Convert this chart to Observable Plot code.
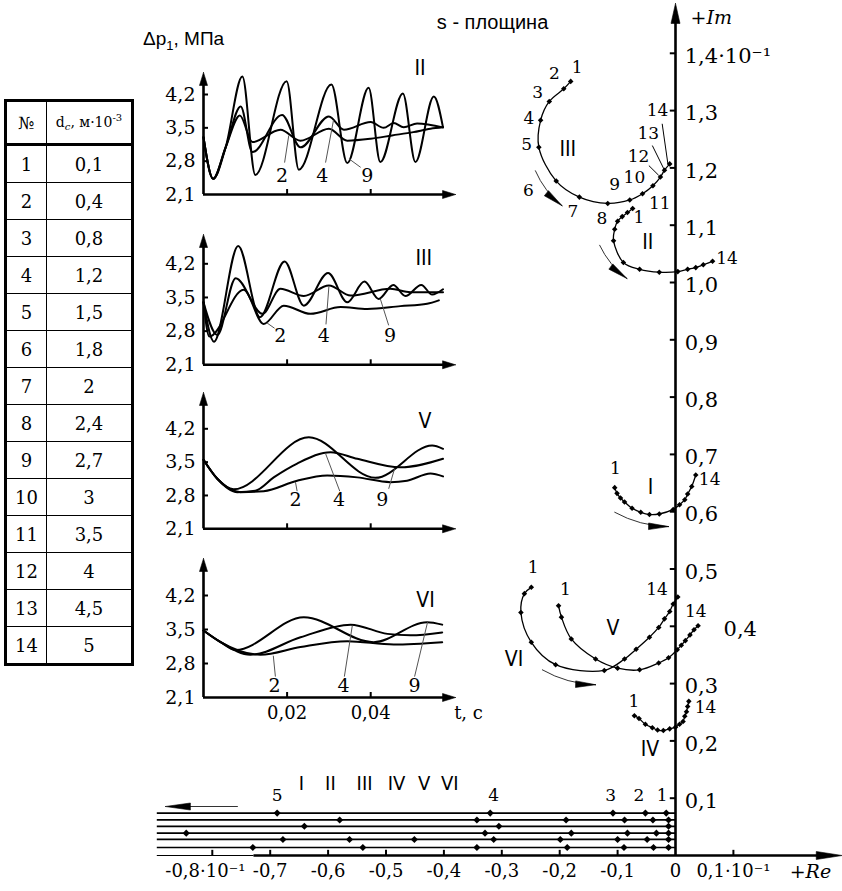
<!DOCTYPE html>
<html><head><meta charset="utf-8">
<script src="https://cdn.jsdelivr.net/npm/d3@7"></script>
<script src="https://cdn.jsdelivr.net/npm/@observablehq/plot@0.6"></script>
<style>
body{margin:0;background:#fff;}
#wrap{position:relative;width:842px;height:891px;overflow:hidden;background:#fff;color:#000;}
#wrap svg{position:absolute;left:0;top:0;}
#tbl{position:absolute;left:4px;top:99px;border-collapse:collapse;border:3px solid #000;font-family:"DejaVu Serif",serif;font-size:18px;}
#tbl th,#tbl td{border:1px solid #000;padding:0;text-align:center;font-weight:normal;}
#tbl th{height:41px;font-size:14px;border-bottom:3px solid #000;}
#tbl th.c1{font-size:17px;}
#tbl td{height:36px;}
#tbl .c1{width:39px;} #tbl .c2{width:84px;}
#tbl sub,#tbl sup{font-size:10px;}
#ylab{position:absolute;left:143px;top:28px;font-family:"Liberation Sans",sans-serif;font-size:19px;}
#ylab sub{font-size:13px;}
g[aria-label="roman"] text{letter-spacing:-1.5px;}
</style></head>
<body><div id="wrap"></div>
<script>
// ---------------- table ----------------
const caseNumbers = [1,2,3,4,5,6,7,8,9,10,11,12,13,14];
const dcValues = ["0,1","0,4","0,8","1,2","1,5","1,8","2","2,4","2,7","3","3,5","4","4,5","5"];

// ---------------- s-plane axes ----------------
const imTicks = [0.1,0.2,0.3,0.4,0.5,0.6,0.7,0.8,0.9,1.0,1.1,1.2,1.3,1.4];
const imTickLabels = ["0,1","0,2","0,3","0,4","0,5","0,6","0,7","0,8","0,9","1,0","1,1","1,2","1,3","1,4·10⁻¹"];
const imLabelRe = [0.016,0.016,0.016,0.083,0.016,0.016,0.016,0.016,0.016,0.016,0.016,0.016,0.016,0.016];
const reTicks = [-0.8,-0.7,-0.6,-0.5,-0.4,-0.3,-0.2,-0.1,0.1];
const reLabelPos = [-0.812,-0.7,-0.6,-0.5,-0.4,-0.3,-0.2,-0.1,0,0.1];
const reTickLabels = ["-0,8·10⁻¹","-0,7","-0,6","-0,5","-0,4","-0,3","-0,2","-0,1","0","0,1·10⁻¹"];
const imAxisTop = 1.487, reAxisRight = 0.288, reAxisLeft = -0.895, reThickStart = -0.728;

// ---------------- root loci (Re, Im in units of 10^-1) ----------------
const reIII = [-0.181,-0.193,-0.218,-0.233,-0.236,-0.206,-0.166,-0.117,-0.079,-0.057,-0.039,-0.026,-0.019,-0.010];
const imIII = [1.351,1.338,1.316,1.283,1.236,1.177,1.149,1.138,1.144,1.155,1.169,1.184,1.196,1.207];
const reII  = [-0.074,-0.083,-0.092,-0.100,-0.105,-0.107,-0.090,-0.062,-0.028,0.004,0.021,0.035,0.048,0.064];
const imII  = [1.129,1.122,1.115,1.107,1.093,1.073,1.035,1.023,1.018,1.019,1.023,1.026,1.031,1.037];
const reI   = [-0.105,-0.101,-0.095,-0.088,-0.075,-0.060,-0.045,-0.028,-0.004,0.007,0.016,0.021,0.028,0.035];
const imI   = [0.642,0.632,0.624,0.617,0.606,0.599,0.595,0.596,0.604,0.612,0.621,0.631,0.644,0.664];
const reVI  = [-0.249,-0.261,-0.267,-0.249,-0.207,-0.123,-0.088,-0.068,-0.045,-0.029,-0.019,-0.010,-0.004,0.004];
const imVI  = [0.468,0.457,0.424,0.372,0.333,0.323,0.343,0.360,0.381,0.398,0.413,0.426,0.439,0.451];
const reV   = [-0.202,-0.197,-0.180,-0.138,-0.100,-0.062,-0.029,-0.012,0.003,0.010,0.017,0.025,0.032,0.039];
const imV   = [0.436,0.416,0.378,0.343,0.327,0.324,0.336,0.345,0.359,0.367,0.375,0.385,0.394,0.401];
const reIV  = [-0.071,-0.063,-0.052,-0.040,-0.031,-0.021,-0.010,0.000,0.007,0.013,0.016,0.019,0.021,0.023];
const imIV  = [0.244,0.239,0.229,0.223,0.219,0.218,0.221,0.224,0.229,0.234,0.243,0.251,0.260,0.269];

// point-number labels
const ptLabelText = ["1","2","3","4","5","6","7","8","9","10","11","12","13","14","1","14","1","14","1","14","1","14","1","14"];
const ptLabelRe = [-0.170,-0.209,-0.238,-0.253,-0.257,-0.254,-0.177,-0.127,-0.105,-0.071,-0.027,-0.064,-0.047,-0.031,
                   -0.063,0.089,-0.104,0.059,-0.246,-0.032,-0.190,0.035,-0.072,0.052];
const ptLabelIm = [1.376,1.365,1.332,1.287,1.240,1.161,1.123,1.111,1.171,1.183,1.138,1.220,1.260,1.300,
                   1.114,1.041,0.675,0.656,0.503,0.465,0.465,0.425,0.268,0.258];
const leadRe1 = [-0.023,-0.040,-0.046], leadIm1 = [1.277,1.239,1.204];
const leadRe2 = [-0.013,-0.020,-0.029], leadIm2 = [1.206,1.198,1.187];
const caseLabelText = ["III","II","I","V","VI","IV"];
const caseLabelRe = [-0.186,-0.048,-0.043,-0.108,-0.279,-0.044];
const caseLabelIm = [1.233,1.070,0.643,0.396,0.343,0.186];
// motion arrows along loci
const arrRe1 = [-0.242,-0.131,-0.105,-0.230], arrIm1 = [1.195,1.065,0.599,0.324];
const arrRe2 = [-0.196,-0.084,-0.012,-0.138], arrIm2 = [1.134,1.007,0.574,0.298];
const arrowBend = -14;

// real roots (bottom strip), one row per case
const rowLevels = [0.074,0.062,0.051,0.039,0.028,0.014];
const roots1 = [-0.688,-0.320,-0.108,-0.052,-0.016];
const roots2 = [-0.580,-0.343,-0.189,-0.088,-0.039,-0.012];
const roots3 = [-0.641,-0.305,-0.012];
const roots4 = [-0.845,-0.329,-0.180,-0.083,-0.033,-0.012];
const roots5 = [-0.678,-0.563,-0.451,-0.314,-0.199,-0.100,-0.049,-0.012];
const roots6 = [-0.730,-0.540,-0.343,-0.187,-0.089,-0.038,-0.012];
const rootLabelText = ["5","4","3","2","1"];
const rootLabelRe = [-0.688,-0.314,-0.112,-0.063,-0.023];
const rootLabelIm = 0.105;
const romanNames = ["I","II","III","IV","V","VI"];
const romanRe = [-0.646,-0.596,-0.537,-0.482,-0.434,-0.390];
const romanIm = 0.126;
const leftArrowRe = [-0.755,-0.881], leftArrowIm = 0.0855;

// ---------------- transient curves Δp1(t) ----------------
const tII_9 = [0,0.0023,0.0053,0.0093,0.0124,0.0199,0.0228,0.0306,0.0344,0.0395,0.0423,0.0477,0.0507,0.0551,0.0573];
const pII_9 = [3.30,2.43,3.09,4.58,2.51,4.48,2.62,4.41,2.76,4.34,2.78,4.22,2.78,4.16,3.51];
const tII_4 = [0,0.0023,0.0053,0.0089,0.0117,0.0188,0.0232,0.0300,0.0336,0.0400,0.0431,0.0455,0.0479,0.0511,0.0573];
const pII_4 = [3.30,2.43,3.09,3.95,2.99,3.77,3.09,3.74,3.46,3.62,3.50,3.60,3.51,3.59,3.51];
const tII_2 = [0,0.0023,0.0053,0.0087,0.0117,0.0184,0.0232,0.0300,0.0344,0.0400,0.0451,0.0502,0.0543,0.0573];
const pII_2 = [3.30,2.43,3.09,3.76,3.20,3.46,3.23,3.48,3.23,3.27,3.34,3.41,3.48,3.51];

const tIII_9 = [0,0.0025,0.0083,0.0135,0.0194,0.0240,0.0298,0.0344,0.0385,0.0419,0.0454,0.0483,0.0521,0.0547,0.0573];
const pIII_9 = [3.40,2.58,4.57,3.09,4.25,3.33,4.01,3.40,3.83,3.47,3.76,3.53,3.76,3.56,3.67];
const tIII_4 = [0,0.0033,0.0077,0.0141,0.0184,0.0240,0.0300,0.0352,0.0447,0.0495,0.0573];
const pIII_4 = [3.40,2.72,3.90,3.16,3.68,3.53,3.75,3.54,3.68,3.61,3.61];
const tIII_2 = [0,0.0014,0.0096,0.0144,0.0192,0.0256,0.0328,0.0392,0.0471,0.0535,0.0563];
const pIII_2 = [3.40,2.69,3.66,2.95,3.33,3.16,3.30,3.26,3.32,3.37,3.44];

const tV_9 = [0,0.0033,0.0072,0.0252,0.0411,0.0547,0.0573];
const pV_9 = [3.55,3.15,2.93,4.02,3.17,3.85,3.78];
const tV_4 = [0,0.0033,0.0081,0.0124,0.0168,0.0224,0.0304,0.0368,0.0471,0.0573];
const pV_4 = [3.55,3.15,2.87,2.90,3.18,3.47,3.71,3.57,3.39,3.57];
const tV_2 = [0,0.0033,0.0089,0.0144,0.0224,0.0296,0.0368,0.0447,0.0487,0.0543,0.0573];
const pV_2 = [3.55,3.15,2.87,2.89,3.11,3.22,3.18,3.08,3.11,3.26,3.20];

const tVI_9 = [0,0.0041,0.0077,0.0240,0.0407,0.0535,0.0571];
const pVI_9 = [3.48,3.24,3.08,3.75,3.24,3.65,3.60];
const tVI_4 = [0,0.0041,0.0112,0.0232,0.0352,0.0440,0.0495,0.0571];
const pVI_4 = [3.48,3.24,2.98,3.34,3.60,3.41,3.38,3.44];
const tVI_2 = [0,0.0041,0.0136,0.0232,0.0344,0.0455,0.0571];
const pVI_2 = [3.48,3.24,2.98,3.14,3.26,3.19,3.24];

const pTickValues = [2.1,2.8,3.5,4.2];
const pTickLabels = ["2,1","2,8","3,5","4,2"];
const tTickValues = [0.02,0.04];
const tTickLabels = ["0,02","0,04"];
const curveNames = ["2","4","9"];
const tAxisEnd = 0.0603;

// ---------------- helpers ----------------
const SERIF = "'DejaVu Serif', serif";
const SANS = "Liberation Sans, Arial, sans-serif";
const ROMAN = "Liberation Sans Narrow, DejaVu Sans Condensed, Liberation Sans, sans-serif";
const W = 842, H = 891;
const baseStyle = {background:"transparent", overflow:"visible", fontFamily: SERIF, fontSize:"18px", color:"#000"};

function headTri(id, xTip, yTip, angDeg, L, hw, kx, ky) {
  const a = angDeg*Math.PI/180, c = Math.cos(a), s = Math.sin(a);
  const bx = -L*c, by = -L*s, px = -s, py = c;
  return [[0,0],[bx+hw*px, by+hw*py],[bx-hw*px, by-hw*py],[0,0]]
    .map(([dx,dy]) => ({id, x: xTip + dx/kx, y: yTip - dy/ky}));
}
const idx = n => d3.range(n);

// ---------------- main s-plane plot ----------------
const kx = 579, ky = 573;
const xMain = {domain:[-1,0.3], range:[675-kx, 675+0.3*kx]};
const yMain = {domain:[0,1.4], range:[855, 855-1.4*ky]};

const heads = [];
heads.push(...headTri("im", 0, imAxisTop, -90, 20, 4.5, kx, ky));
heads.push(...headTri("re", reAxisRight, 0, 0, 26, 4, kx, ky));
heads.push(...headTri("left", leftArrowRe[1], leftArrowIm, 180, 25, 3.5, kx, ky));
arrRe1.forEach((_, i) => {
  const chord = Math.atan2(-(arrIm2[i]-arrIm1[i])*ky, (arrRe2[i]-arrRe1[i])*kx)*180/Math.PI;
  heads.push(...headTri("m"+i, arrRe2[i], arrIm2[i], chord + arrowBend, 20, 3.3, kx, ky));
});

const loci = [[reIII,imIII],[reII,imII],[reI,imI],[reVI,imVI],[reV,imV],[reIV,imIV]];
const rootRows = [roots1,roots2,roots3,roots4,roots5,roots6];
const rootPts = [];
rootRows.forEach((row,r) => row.forEach(re => rootPts.push({re, im: rowLevels[r]})));

const mainMarks = [
  Plot.ruleY(rowLevels, {x1: reAxisLeft, x2: 0, strokeWidth: 1.7}),
  Plot.dot(rootPts, {x:"re", y:"im", symbol:"diamond2", r:3.2, fill:"black", stroke:"none"}),
  Plot.text(idx(rootLabelText.length), {x: i=>rootLabelRe[i], y: rootLabelIm, text: i=>rootLabelText[i], fontSize:17}),
  Plot.text(idx(romanNames.length), {x: i=>romanRe[i], y: romanIm, text: i=>romanNames[i], fontFamily: ROMAN, fontSize:20, ariaLabel:"roman"}),
  Plot.ruleY([leftArrowIm], {x1: leftArrowRe[0], x2: leftArrowRe[1]+0.02, strokeWidth: 1, stroke:"#333"}),
  // axes
  Plot.ruleX([0], {y1: 0, y2: imAxisTop - 0.02, strokeWidth: 2.6}),
  Plot.ruleY([0], {x1: reAxisLeft, x2: reThickStart, strokeWidth: 1.2}),
  Plot.ruleY([0], {x1: reThickStart, x2: reAxisRight - 0.03, strokeWidth: 2.6}),
  Plot.ruleY(imTicks, {x1: -0.009, x2: 0, strokeWidth: 2}),
  Plot.ruleX(reTicks, {y1: 0, y2: 0.009, strokeWidth: 2}),
  Plot.text(idx(imTicks.length), {x: i=>imLabelRe[i], y: i=>imTicks[i], text: i=>imTickLabels[i], textAnchor:"start", dy: 3, fontSize: 21}),
  Plot.text(idx(reLabelPos.length), {x: i=>reLabelPos[i], y: 0, text: i=>reTickLabels[i], dy: 16, fontSize: 18}),
  Plot.text(["+Re"], {x: 0.233, y: 0, dy: 16, text: d=>d, fontStyle:"italic", fontSize: 19}),
  Plot.text(["+Im"], {x: 0.026, y: 1.4625, text: d=>d, textAnchor:"start", fontStyle:"italic", fontSize: 19}),
  Plot.text(["s - площина"], {x: -0.316, y: 1.454, text: d=>d, fontFamily: SANS, fontSize: 20}),
  // loci
  ...loci.flatMap(([re, im]) => [
    Plot.line(idx(re.length), {x: i=>re[i], y: i=>im[i], curve:"catmull-rom", strokeWidth: 1.3}),
    Plot.dot(idx(re.length), {x: i=>re[i], y: i=>im[i], symbol:"diamond2", r: 2.5, fill:"black", stroke:"none"})
  ]),
  Plot.text(idx(ptLabelText.length), {x: i=>ptLabelRe[i], y: i=>ptLabelIm[i], text: i=>ptLabelText[i], fontSize: 17}),
  Plot.link(idx(3), {x1: i=>leadRe1[i], y1: i=>leadIm1[i], x2: i=>leadRe2[i], y2: i=>leadIm2[i], strokeWidth: 1}),
  Plot.text(idx(caseLabelText.length), {x: i=>caseLabelRe[i], y: i=>caseLabelIm[i], text: i=>caseLabelText[i], fontFamily: ROMAN, fontSize: 21, ariaLabel:"roman"}),
  Plot.arrow(idx(arrRe1.length), {x1: i=>arrRe1[i], y1: i=>arrIm1[i], x2: i=>arrRe2[i], y2: i=>arrIm2[i], bend: arrowBend, headLength: 0, strokeWidth: 1, stroke:"#333"}),
  Plot.line(heads, {x:"x", y:"y", z:"id", fill:"black", stroke:"black", strokeWidth: 0.6, curve:"linear"})
];

const mainSvg = Plot.plot({width: W, height: H, x: {...xMain, axis: null}, y: {...yMain, axis: null}, style: baseStyle, marks: mainMarks});

// ---------------- transient plots ----------------
function timePlot(cfg) {
  const kt = 4180, kp = (cfg.y21 - cfg.y42)/2.1;
  const tri = [
    ...headTri("y", 0, cfg.pTop, -90, 13, 4, kt, kp),
    ...headTri("x", tAxisEnd, 2.1, 0, 13, 4, kt, kp)
  ];
  const marks = [
    ...cfg.curves.map(([t, p]) => Plot.line(idx(t.length), {x: i=>t[i], y: i=>p[i], curve:"monotone-x", strokeWidth: 2})),
    Plot.ruleX([0], {y1: 2.1, y2: cfg.pTop - 10/kp, strokeWidth: 2.6}),
    Plot.ruleY([2.1], {x1: 0, x2: tAxisEnd - 10/kt, strokeWidth: 2.6}),
    Plot.ruleY(pTickValues.slice(1), {x1: 0, x2: 5/kt, strokeWidth: 2}),
    Plot.ruleX(tTickValues, {y1: 2.1, y2: 2.1 + 5/kp, strokeWidth: 2}),
    Plot.text(idx(pTickValues.length), {x: 0, y: i=>pTickValues[i], text: i=>pTickLabels[i], textAnchor:"end", dx: -8, fontSize: 19}),
    Plot.text(idx(3), {x: i=>cfg.labT[i], y: i=>cfg.labP[i], text: i=>curveNames[i], fontSize: 19}),
    Plot.link(idx(3), {x1: i=>cfg.leadT1[i], y1: i=>cfg.leadP1[i], x2: i=>cfg.leadT2[i], y2: i=>cfg.leadP2[i], stroke:"#555", strokeWidth: 1}),
    Plot.text([cfg.roman], {x: cfg.romanT, y: cfg.romanP, text: d=>d, fontFamily: ROMAN, fontSize: 21, ariaLabel:"roman"}),
    Plot.line(tri, {x:"x", y:"y", z:"id", fill:"black", stroke:"black", strokeWidth: 0.6, curve:"linear"})
  ];
  if (cfg.showT) {
    marks.push(Plot.text(idx(tTickValues.length), {x: i=>tTickValues[i], y: 2.1, dy: 16, text: i=>tTickLabels[i], fontSize: 18}));
    marks.push(Plot.text(["t, c"], {x: 0.0634, y: 2.1, dy: 16, text: d=>d, fontSize: 18}));
  }
  return Plot.plot({width: W, height: H, x: {domain:[0,0.06], range:[203, 203+0.06*kt], axis:null},
    y: {domain:[2.1,4.2], range:[cfg.y21, cfg.y42], axis:null}, style: baseStyle, marks});
}

const plots = [
  timePlot({y21:194, y42:94, pTop:4.663, curves:[[tII_9,pII_9],[tII_4,pII_4],[tII_2,pII_2]], roman:"II", romanT:0.0518, romanP:4.76,
    labT:[0.0188,0.0284,0.0392], labP:[2.50,2.50,2.50], leadT1:[0.0194,0.0292,0.0376], leadP1:[2.77,2.77,2.67], leadT2:[0.0204,0.0311,0.0348], leadP2:[3.34,3.66,2.85]}),
  timePlot({y21:364.3, y42:263.3, pTop:4.809, curves:[[tIII_9,pIII_9],[tIII_4,pIII_4],[tIII_2,pIII_2]], roman:"III", romanT:0.0527, romanP:4.31,
    labT:[0.0184,0.0288,0.0446], labP:[2.71,2.71,2.71], leadT1:[0.0170,0.0293,0.0443], leadP1:[2.86,2.94,2.92], leadT2:[0.0152,0.0300,0.0423], leadP2:[2.97,3.73,3.47]}),
  timePlot({y21:528.3, y42:428.3, pTop:4.963, curves:[[tV_9,pV_9],[tV_4,pV_4],[tV_2,pV_2]], roman:"V", romanT:0.0530, romanP:4.35,
    labT:[0.0220,0.0324,0.0428], labP:[2.70,2.70,2.70], leadT1:[0.0224,0.0326,0.0443], leadP1:[2.89,2.89,2.94], leadT2:[0.0220,0.0292,0.0457], leadP2:[3.08,3.68,3.36]}),
  timePlot({y21:697, y42:595, pTop:4.962, curves:[[tVI_9,pVI_9],[tVI_4,pVI_4],[tVI_2,pVI_2]], roman:"VI", romanT:0.0531, romanP:4.10,
    labT:[0.0170,0.0335,0.0505], labP:[2.33,2.33,2.33], leadT1:[0.0172,0.0337,0.0505], leadP1:[2.53,2.53,2.53], leadT2:[0.0167,0.0356,0.0536], leadP2:[2.96,3.58,3.65], showT:true})
];

const wrap = document.getElementById("wrap");
wrap.appendChild(mainSvg);
plots.forEach(p => wrap.appendChild(p));

// table
const tbl = document.createElement("table");
tbl.id = "tbl";
let html = `<tr><th class="c1">№</th><th class="c2">d<sub><i>c</i></sub>, м·10<sup>-3</sup></th></tr>`;
caseNumbers.forEach((n, i) => { html += `<tr><td class="c1">${n}</td><td class="c2">${dcValues[i]}</td></tr>`; });
tbl.innerHTML = html;
wrap.appendChild(tbl);

// y-axis title
const yl = document.createElement("div");
yl.id = "ylab";
yl.innerHTML = "Δp<sub>1</sub>, МПа";
wrap.appendChild(yl);
</script>
</body></html>
